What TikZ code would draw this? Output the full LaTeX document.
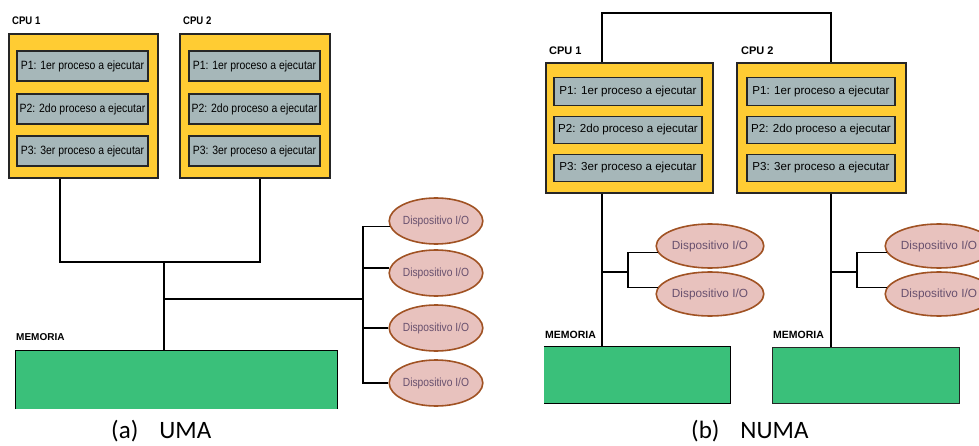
\documentclass[tikz,border=0pt]{standalone}
\usepackage{fontspec}
\setmainfont{Carlito}
\newfontfamily\narrowsf[FakeStretch=0.87]{Liberation Sans}
\newfontfamily\plainsf{Liberation Sans}
\usetikzlibrary{shapes.geometric}
\definecolor{cpuyellow}{RGB}{255,204,51}
\definecolor{procgray}{RGB}{166,183,185}
\definecolor{iopink}{RGB}{232,194,190}
\definecolor{iobrown}{RGB}{160,82,35}
\definecolor{iotext}{RGB}{104,80,110}
\definecolor{memgreen}{RGB}{58,192,122}

\begin{document}
\begin{tikzpicture}[x=1pt,y=-1pt,
    cpubox/.style={draw=black!85, line width=1.2pt, fill=cpuyellow, inner sep=0pt},
    procbox/.style={draw=black!85, line width=1.2pt, fill=procgray, inner sep=0pt},
    iodev/.style={ellipse, draw=iobrown, line width=1.6pt, fill=iopink, inner sep=0pt, text=iotext},
    memblock/.style={fill=memgreen, inner sep=0pt},
    bus/.style={line width=1.6pt},
    tag/.style={inner sep=0pt, anchor=base west}]
    \useasboundingbox (0,0) rectangle (979,446);
    % UMA
    \node[cpubox, minimum width=149pt, minimum height=144pt] (cpuA1) at (83.5,106) {};
    \node[cpubox, minimum width=150pt, minimum height=144pt] (cpuA2) at (255,106) {};
    \node[tag, font=\narrowsf\bfseries\fontsize{11}{13}\selectfont] (lblA1) at (12,25) {CPU 1};
    \node[tag, font=\narrowsf\bfseries\fontsize{11}{13}\selectfont] (lblA2) at (183,25) {CPU 2};
    \foreach \i/\ord/\y in {1/1er/66, 2/2do/109, 3/3er/151} {
        \node[procbox, minimum width=131pt, minimum height=30pt, font=\narrowsf\fontsize{12}{14}\selectfont] (pA1\i) at (82.5,\y) {P\i: \ord\ proceso a ejecutar};
        \node[procbox, minimum width=131pt, minimum height=30pt, font=\narrowsf\fontsize{12}{14}\selectfont] (pA2\i) at (254.5,\y) {P\i: \ord\ proceso a ejecutar};
    }
    \node[memblock, minimum width=321pt, minimum height=58pt] (memA) at (176.5,380) {};
    \draw[line width=1pt] (memA.south west) -- (memA.north west) -- (memA.north east) -- (memA.south east);
    \node[tag, font=\plainsf\bfseries\fontsize{10}{12}\selectfont] (lblmemA) at (16,340) {MEMORIA};
    \foreach \i/\y in {1/221, 2/273, 3/328, 4/383}
        \node[iodev, minimum width=84pt, minimum height=46pt, font=\narrowsf\fontsize{11.8}{13}\selectfont] (ioA\i) at (436,\y) {Dispositivo I/O};
    \coordinate (jA1) at (60,262);
    \coordinate (jA2) at (260,262);
    \coordinate (jA0) at (164,262);
    \coordinate (jA3) at (164,299);
    \coordinate (jA4) at (363,299);
    \draw[bus] (cpuA1.south -| jA1) -- (jA1) -- (jA2) -- (cpuA2.south -| jA2);
    \draw[bus] (jA0) -- (memA.north -| jA0);
    \draw[bus] (jA3) -- (jA4);
    \draw[bus] (ioA1.187) -| (jA4 |- ioA4.west) -- (ioA4.west);
    \draw[bus] (ioA2.174) -- (ioA2.174 -| jA4);
    \draw[bus] (ioA3.west) -- (ioA3.west -| jA4);
    \node[tag, font=\fontsize{25}{30}\selectfont] (capA) at (111,438) {(a)\hspace{21pt}UMA};
    % NUMA
    \node[cpubox, minimum width=167pt, minimum height=130pt] (cpuB1) at (629.5,128) {};
    \node[cpubox, minimum width=169pt, minimum height=130pt] (cpuB2) at (821.5,128) {};
    \node[tag, font=\plainsf\bfseries\fontsize{11}{13}\selectfont] (lblB1) at (549,55) {CPU 1};
    \node[tag, font=\plainsf\bfseries\fontsize{11}{13}\selectfont] (lblB2) at (741,55) {CPU 2};
    \foreach \i/\ord/\y in {1/1er/91.5, 2/2do/130, 3/3er/168} {
        \node[procbox, minimum width=148pt, minimum height=27.5pt, font=\plainsf\fontsize{11.6}{14}\selectfont] (pB1\i) at (628,\y) {P\i: \ord\ proceso a ejecutar};
        \node[procbox, minimum width=148pt, minimum height=27.5pt, font=\plainsf\fontsize{11.6}{14}\selectfont] (pB2\i) at (821,\y) {P\i: \ord\ proceso a ejecutar};
    }
    \node[memblock, minimum width=186pt, minimum height=56pt] (memB1) at (637,375) {};
    \draw[line width=1pt] (memB1.north west) -- (memB1.north east) -- (memB1.south east) -- (memB1.south west);
    \node[memblock, draw=black!85, line width=1pt, minimum width=187pt, minimum height=56pt] (memB2) at (865.5,375) {};
    \node[tag, font=\plainsf\bfseries\fontsize{10.5}{12}\selectfont] (lblmemB1) at (545,338) {MEMORIA};
    \node[tag, font=\plainsf\bfseries\fontsize{10.5}{12}\selectfont] (lblmemB2) at (773,338) {MEMORIA};
    \foreach \i/\y in {1/246, 2/294} {
        \node[iodev, minimum width=92pt, minimum height=44pt, font=\plainsf\fontsize{11.8}{13}\selectfont] (ioB1\i) at (710,\y) {Dispositivo I/O};
        \node[iodev, minimum width=92pt, minimum height=44pt, font=\plainsf\fontsize{11.8}{13}\selectfont] (ioB2\i) at (939,\y) {Dispositivo I/O};
    }
    \coordinate (tB1) at (602,13);
    \coordinate (tB2) at (831,13);
    \coordinate (brB1) at (628,272);
    \coordinate (brB2) at (857,272);
    \draw[bus] (cpuB1.north -| tB1) -- (tB1) -- (tB2) -- (cpuB2.north -| tB2);
    \draw[bus] (cpuB1.south -| tB1) -- (memB1.north -| tB1);
    \draw[bus] (cpuB2.south -| tB2) -- (memB2.north -| tB2);
    \draw[bus] (tB1 |- brB1) -- (brB1);
    \draw[bus] (tB2 |- brB2) -- (brB2);
    \draw[bus] (ioB11.187) -| (brB1 |- ioB12.173) -- (ioB12.173);
    \draw[bus] (ioB21.187) -| (brB2 |- ioB22.173) -- (ioB22.173);
    \node[tag, font=\fontsize{25}{30}\selectfont] (capB) at (691,438) {(b)\hspace{21pt}NUMA};
\end{tikzpicture}
\end{document}
